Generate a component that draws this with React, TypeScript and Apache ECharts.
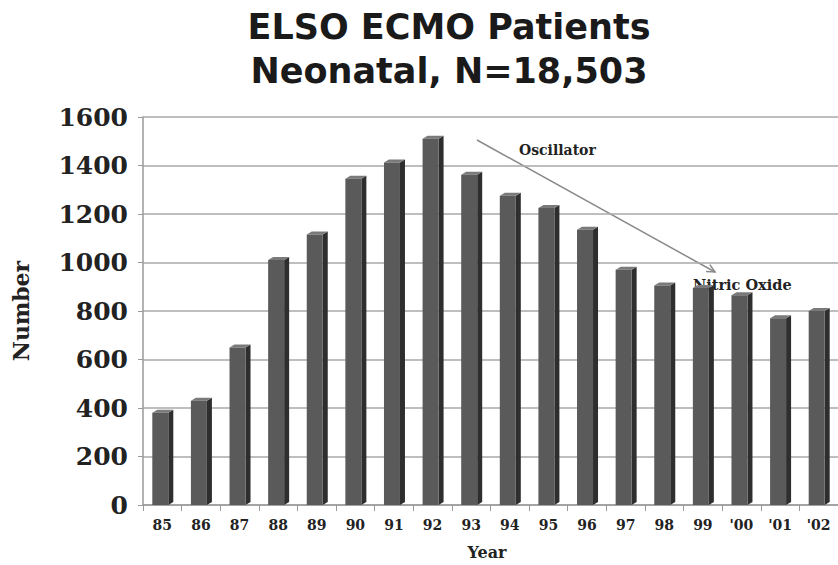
import React, { useEffect, useRef } from "react";
import * as echarts from "echarts";

// Neonatal ECMO cases reported to ELSO, by year
const years = ["85", "86", "87", "88", "89", "90", "91", "92", "93", "94", "95", "96", "97", "98", "99", "'00", "'01", "'02"];
const patients = [380, 430, 650, 1010, 1115, 1345, 1412, 1510, 1362, 1275, 1225, 1135, 970, 905, 895, 865, 770, 800];
const yTicks = { min: 0, max: 1600, interval: 200 };

const SERIF = "DejaVu Serif";
const SANS = "DejaVu Sans";

export default function App() {
  const ref = useRef<HTMLDivElement>(null);

  useEffect(() => {
    if (!ref.current) return;
    const chart = echarts.init(ref.current, null, { renderer: "svg" });

    // arrow from "Oscillator" towards "Nitric Oxide"
    const a0 = [477, 140];
    const a1 = [715, 272];
    const dx = a1[0] - a0[0];
    const dy = a1[1] - a0[1];
    const len = Math.hypot(dx, dy);
    const ux = dx / len;
    const uy = dy / len;
    const head = 9;
    const ang = 0.45;
    const rot = (x: number, y: number, t: number) => [x * Math.cos(t) - y * Math.sin(t), x * Math.sin(t) + y * Math.cos(t)];
    const h1 = rot(-ux, -uy, ang);
    const h2 = rot(-ux, -uy, -ang);

    chart.setOption({
      animation: false,
      backgroundColor: "#ffffff",
      title: {
        text: "ELSO ECMO Patients\nNeonatal, N=18,503",
        left: 444,
        top: 0,
        textAlign: "center",
        textStyle: {
          fontFamily: SANS,
          fontWeight: "bold",
          fontSize: 35,
          lineHeight: 44,
          color: "#1a1a1a",
        },
      },
      grid: { left: 143, right: 0, top: 117, bottom: 60 },
      xAxis: {
        type: "category",
        data: years,
        boundaryGap: true,
        axisLine: { lineStyle: { color: "#9a9a9a", width: 1.5 } },
        axisTick: { show: true, length: 6, lineStyle: { color: "#9a9a9a" } },
        axisLabel: {
          fontFamily: SERIF,
          fontWeight: "bold",
          fontSize: 14,
          color: "#222",
          margin: 13,
        },
        splitLine: { show: false },
      },
      yAxis: {
        type: "value",
        min: yTicks.min,
        max: yTicks.max,
        interval: yTicks.interval,
        axisLine: { show: true, lineStyle: { color: "#9a9a9a", width: 1.5 } },
        axisTick: { show: true, length: 5, lineStyle: { color: "#9a9a9a" } },
        axisLabel: {
          fontFamily: SERIF,
          fontWeight: "bold",
          fontSize: 25,
          color: "#222",
          margin: 15,
          formatter: (v: number) => String(v),
        },
        splitLine: { show: true, lineStyle: { color: "#a8a8a8", width: 1.5 } },
      },
      series: [
        {
          type: "custom",
          data: patients.map((v, i) => [i, v]),
          encode: { x: 0, y: 1 },
          renderItem: (_params: any, api: any) => {
            const idx = api.value(0);
            const val = api.value(1);
            const top = api.coord([idx, val]);
            const base = api.coord([idx, 0]);
            const fw = 16;
            const ox = 5;
            const oy = 3;
            const l = top[0] - 10;
            const r = l + fw;
            return {
              type: "group",
              children: [
                {
                  type: "polygon",
                  shape: { points: [[r, top[1]], [r + ox, top[1] - oy], [r + ox, base[1] - oy], [r, base[1]]] },
                  style: { fill: "#2e2e2e" },
                },
                {
                  type: "polygon",
                  shape: { points: [[l, top[1]], [l + ox, top[1] - oy], [r + ox, top[1] - oy], [r, top[1]]] },
                  style: { fill: "#7a7a7a" },
                },
                {
                  type: "rect",
                  shape: { x: l, y: top[1], width: fw, height: base[1] - top[1] },
                  style: { fill: "#5a5a5a" },
                },
              ],
            };
          },
        },
      ],
      graphic: [
        {
          type: "text",
          rotation: Math.PI / 2,
          x: 21,
          y: 311,
          style: {
            text: "Number",
            fontFamily: SERIF,
            fontWeight: "bold",
            fontSize: 22,
            fill: "#222",
            textAlign: "center",
            textVerticalAlign: "middle",
          },
        },
        {
          type: "text",
          x: 487,
          y: 552,
          style: {
            text: "Year",
            fontFamily: SERIF,
            fontWeight: "bold",
            fontSize: 16,
            fill: "#222",
            textAlign: "center",
            textVerticalAlign: "middle",
          },
        },
        {
          type: "line",
          shape: { x1: a0[0], y1: a0[1], x2: a1[0], y2: a1[1] },
          style: { stroke: "#8a8a8a", lineWidth: 1.5 },
        },
        {
          type: "polyline",
          shape: {
            points: [
              [a1[0] + h1[0] * head, a1[1] + h1[1] * head],
              [a1[0], a1[1]],
              [a1[0] + h2[0] * head, a1[1] + h2[1] * head],
            ],
          },
          style: { stroke: "#8a8a8a", lineWidth: 1.5, fill: "none" },
        },
        {
          type: "text",
          x: 519,
          y: 150,
          style: {
            text: "Oscillator",
            fontFamily: SERIF,
            fontWeight: "bold",
            fontSize: 14,
            fill: "#222",
            textAlign: "left",
            textVerticalAlign: "middle",
          },
        },
        {
          type: "text",
          x: 693,
          y: 284,
          style: {
            text: "Nitric Oxide",
            fontFamily: SERIF,
            fontWeight: "bold",
            fontSize: 14.5,
            fill: "#222",
            textAlign: "left",
            textVerticalAlign: "middle",
          },
        },
      ],
    });

    return () => chart.dispose();
  }, []);

  return (
    <div
      ref={ref}
      style={{ position: "fixed", left: 0, top: 0, width: 838, height: 565 }}
    />
  );
}
